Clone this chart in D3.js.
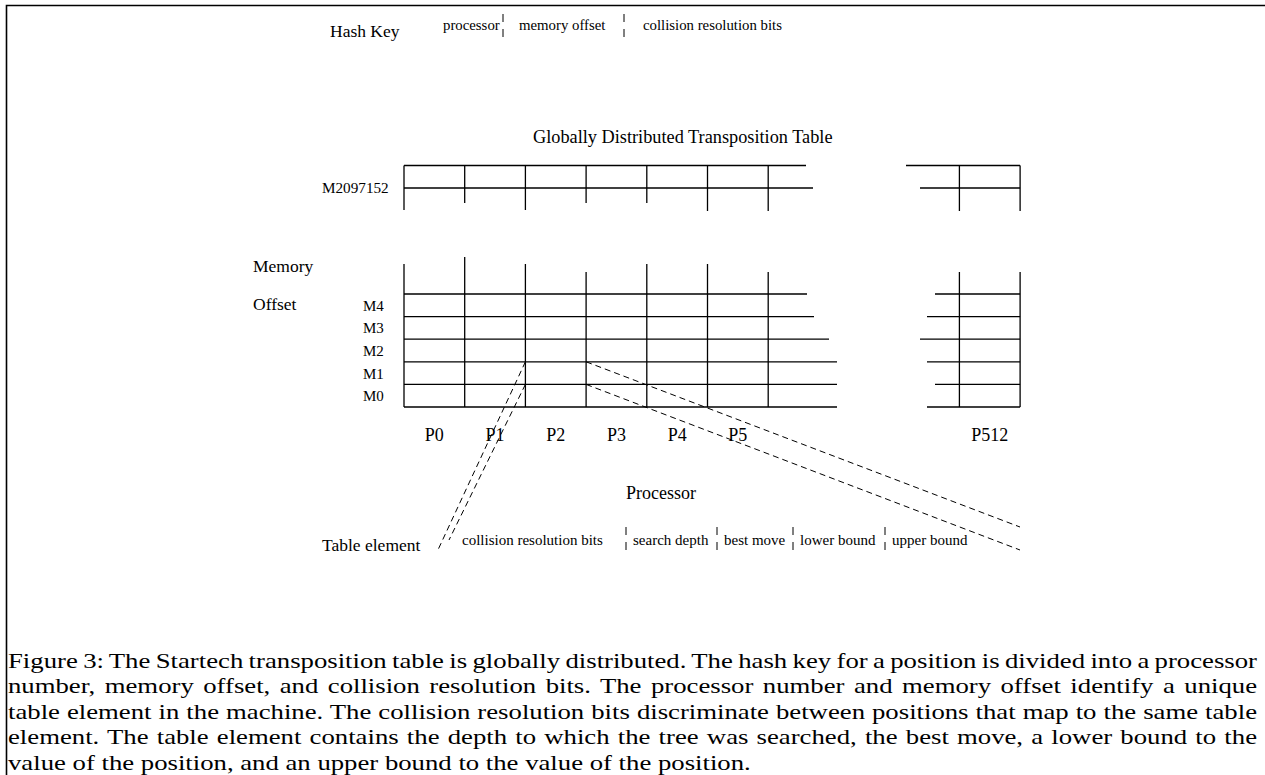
<!DOCTYPE html>
<html>
<head>
<meta charset="utf-8">
<script src="https://cdn.jsdelivr.net/npm/d3@7"></script>
<style>
    body { margin: 0; background: #fff; }
    svg { display: block; }
</style>
</head>
<body>
<div id="chart"></div>
<script>
// Figure content
const hashKeyFields = ['processor', 'memory offset', 'collision resolution bits'];
const processorLabels = ['P0', 'P1', 'P2', 'P3', 'P4', 'P5'];
const lastProcessor = 'P512';
const memoryRows = ['M0', 'M1', 'M2', 'M3', 'M4'];
const topRowLabel = 'M2097152';
const elementFields = ['collision resolution bits', 'search depth', 'best move', 'lower bound', 'upper bound'];
const captionLines = [
    'Figure 3: The Startech transposition table is globally distributed. The hash key for a position is divided into a processor',
    'number, memory offset, and collision resolution bits. The processor number and memory offset identify a unique',
    'table element in the machine. The collision resolution bits discriminate between positions that map to the same table',
    'element. The table element contains the depth to which the tree was searched, the best move, a lower bound to the',
    'value of the position, and an upper bound to the value of the position.'
];

// Layout
const width = 1265, height = 775;
const lastSlot = 9.15;                       // column slot of P512 after the gap
const hashFieldX = [443, 519, 643];
const hashTickX = [503, 624];
const elementFieldX = [462, 633, 724, 800, 892];
const elementTickX = [626, 717, 793, 885];
const rowLeftEnd = [837, 837, 837, 829, 814, 807];
const rowRightStart = [927, 935, 927, 920, 927, 935];
const colTop = [264, 257, 264, 272, 264, 264, 272];
const upperColBottom = [210, 203, 210, 203, 203, 211, 211];

const svg = d3.select('#chart')
    .append('svg')
    .attr('width', width)
    .attr('height', height)
    .style('font-family', '"Liberation Serif", "Times New Roman", serif');

svg.append('rect').attr('width', width).attr('height', height).attr('fill', '#fff');

const x = d3.scaleLinear().domain([0, 1]).range([404, 464.7]);
const y = d3.scaleLinear().domain([0, memoryRows.length]).range([407, 294]);

const line = (g, x1, y1, x2, y2) => g.append('line')
    .attr('x1', x1).attr('y1', y1).attr('x2', x2).attr('y2', y2)
    .attr('stroke', '#000');

// frame
svg.append('path')
    .attr('d', `M6.5,${height} V5.5 H${width}`)
    .attr('fill', 'none')
    .attr('stroke', '#000')
    .attr('stroke-width', 1.6);

// hash key
svg.append('text').attr('x', 330).attr('y', 37).style('font-size', '17.5px').text('Hash Key');
svg.selectAll('.hk')
    .data(hashKeyFields)
    .join('text')
    .attr('class', 'hk')
    .attr('x', (d, i) => hashFieldX[i])
    .attr('y', 30)
    .style('font-size', '14.8px')
    .text(d => d);
hashTickX.forEach(tx => line(svg, tx, 14, tx, 37).attr('stroke-dasharray', '8,7').attr('stroke-width', 1));

// title
svg.append('text').attr('x', 533).attr('y', 143).style('font-size', '18.3px')
    .text('Globally Distributed Transposition Table');

// upper row (M2097152)
const grid = svg.append('g').attr('stroke-width', 1.3);
const uTop = 165.5, uMid = 188;
line(grid, x(0), uTop, 806, uTop);
line(grid, 906, uTop, x(lastSlot + 1), uTop);
line(grid, x(0), uMid, 813, uMid);
line(grid, 920, uMid, x(lastSlot + 1), uMid);
upperColBottom.forEach((b, i) => line(grid, x(i), uTop, x(i), b));
line(grid, x(lastSlot), uTop, x(lastSlot), 211);
line(grid, x(lastSlot + 1), uTop, x(lastSlot + 1), 211);
svg.append('text').attr('x', 322).attr('y', 193).style('font-size', '15.2px').text(topRowLabel);

// lower rows
d3.range(memoryRows.length + 1).forEach(i => {
    line(grid, x(0), y(i), rowLeftEnd[i], y(i));
    line(grid, rowRightStart[i], y(i), x(lastSlot + 1), y(i));
});
colTop.forEach((t, i) => line(grid, x(i), t, x(i), y(0)));
line(grid, x(lastSlot), 272, x(lastSlot), y(0));
line(grid, x(lastSlot + 1), 272, x(lastSlot + 1), y(0));

svg.selectAll('.mrow')
    .data(memoryRows)
    .join('text')
    .attr('class', 'mrow')
    .attr('x', 363)
    .attr('y', (d, i) => (y(i) + y(i + 1)) / 2 + 5.5)
    .style('font-size', '15px')
    .text(d => d);

svg.append('text').attr('x', 253).attr('y', 272).style('font-size', '17.5px').text('Memory');
svg.append('text').attr('x', 253).attr('y', 310).style('font-size', '17.5px').text('Offset');

svg.selectAll('.plab')
    .data(processorLabels.map((d, i) => ({ name: d, slot: i })).concat([{ name: lastProcessor, slot: lastSlot }]))
    .join('text')
    .attr('class', 'plab')
    .attr('x', d => x(d.slot + 0.5))
    .attr('y', 441)
    .attr('text-anchor', 'middle')
    .style('font-size', '18px')
    .text(d => d.name);

svg.append('text').attr('x', 661).attr('y', 499).attr('text-anchor', 'middle')
    .style('font-size', '18px').text('Processor');

// zoom lines from the selected cell to the table element
const dashed = svg.append('g').attr('stroke-dasharray', '6,4').attr('stroke-width', 1);
line(dashed, x(2), y(2), 437, 552);
line(dashed, x(2), y(1), 449, 540);
line(dashed, x(3), y(2), 1020, 527);
line(dashed, x(3), y(1), 1020, 550);

// table element
svg.append('text').attr('x', 322).attr('y', 551).style('font-size', '17.5px').text('Table element');
svg.selectAll('.ef')
    .data(elementFields)
    .join('text')
    .attr('class', 'ef')
    .attr('x', (d, i) => elementFieldX[i])
    .attr('y', 545)
    .style('font-size', '15px')
    .text(d => d);
elementTickX.forEach(tx => line(svg, tx, 527, tx, 550).attr('stroke-dasharray', '8,7').attr('stroke-width', 1));

// caption: the scanned type is wide, so stretch it horizontally, then justify
const capLeft = 8, capRight = 1257, lastLineEnd = 751;
const cap = svg.append('g');
const capText = cap.selectAll('.cap')
    .data(captionLines)
    .join('text')
    .attr('class', 'cap')
    .attr('x', 0)
    .attr('y', (d, i) => 668 + i * 25.5)
    .style('font-size', '22px')
    .text(d => d);

const lastNode = capText.nodes()[captionLines.length - 1];
const sx = (lastLineEnd - capLeft) / lastNode.getComputedTextLength();
cap.attr('transform', `translate(${capLeft},0) scale(${sx},1)`);

capText.each(function (d, i) {
    if (i === captionLines.length - 1) return;
    const spaces = d.split(' ').length - 1;
    const extra = ((capRight - capLeft) / sx - this.getComputedTextLength()) / spaces;
    d3.select(this).attr('word-spacing', extra);
});
</script>
</body>
</html>
